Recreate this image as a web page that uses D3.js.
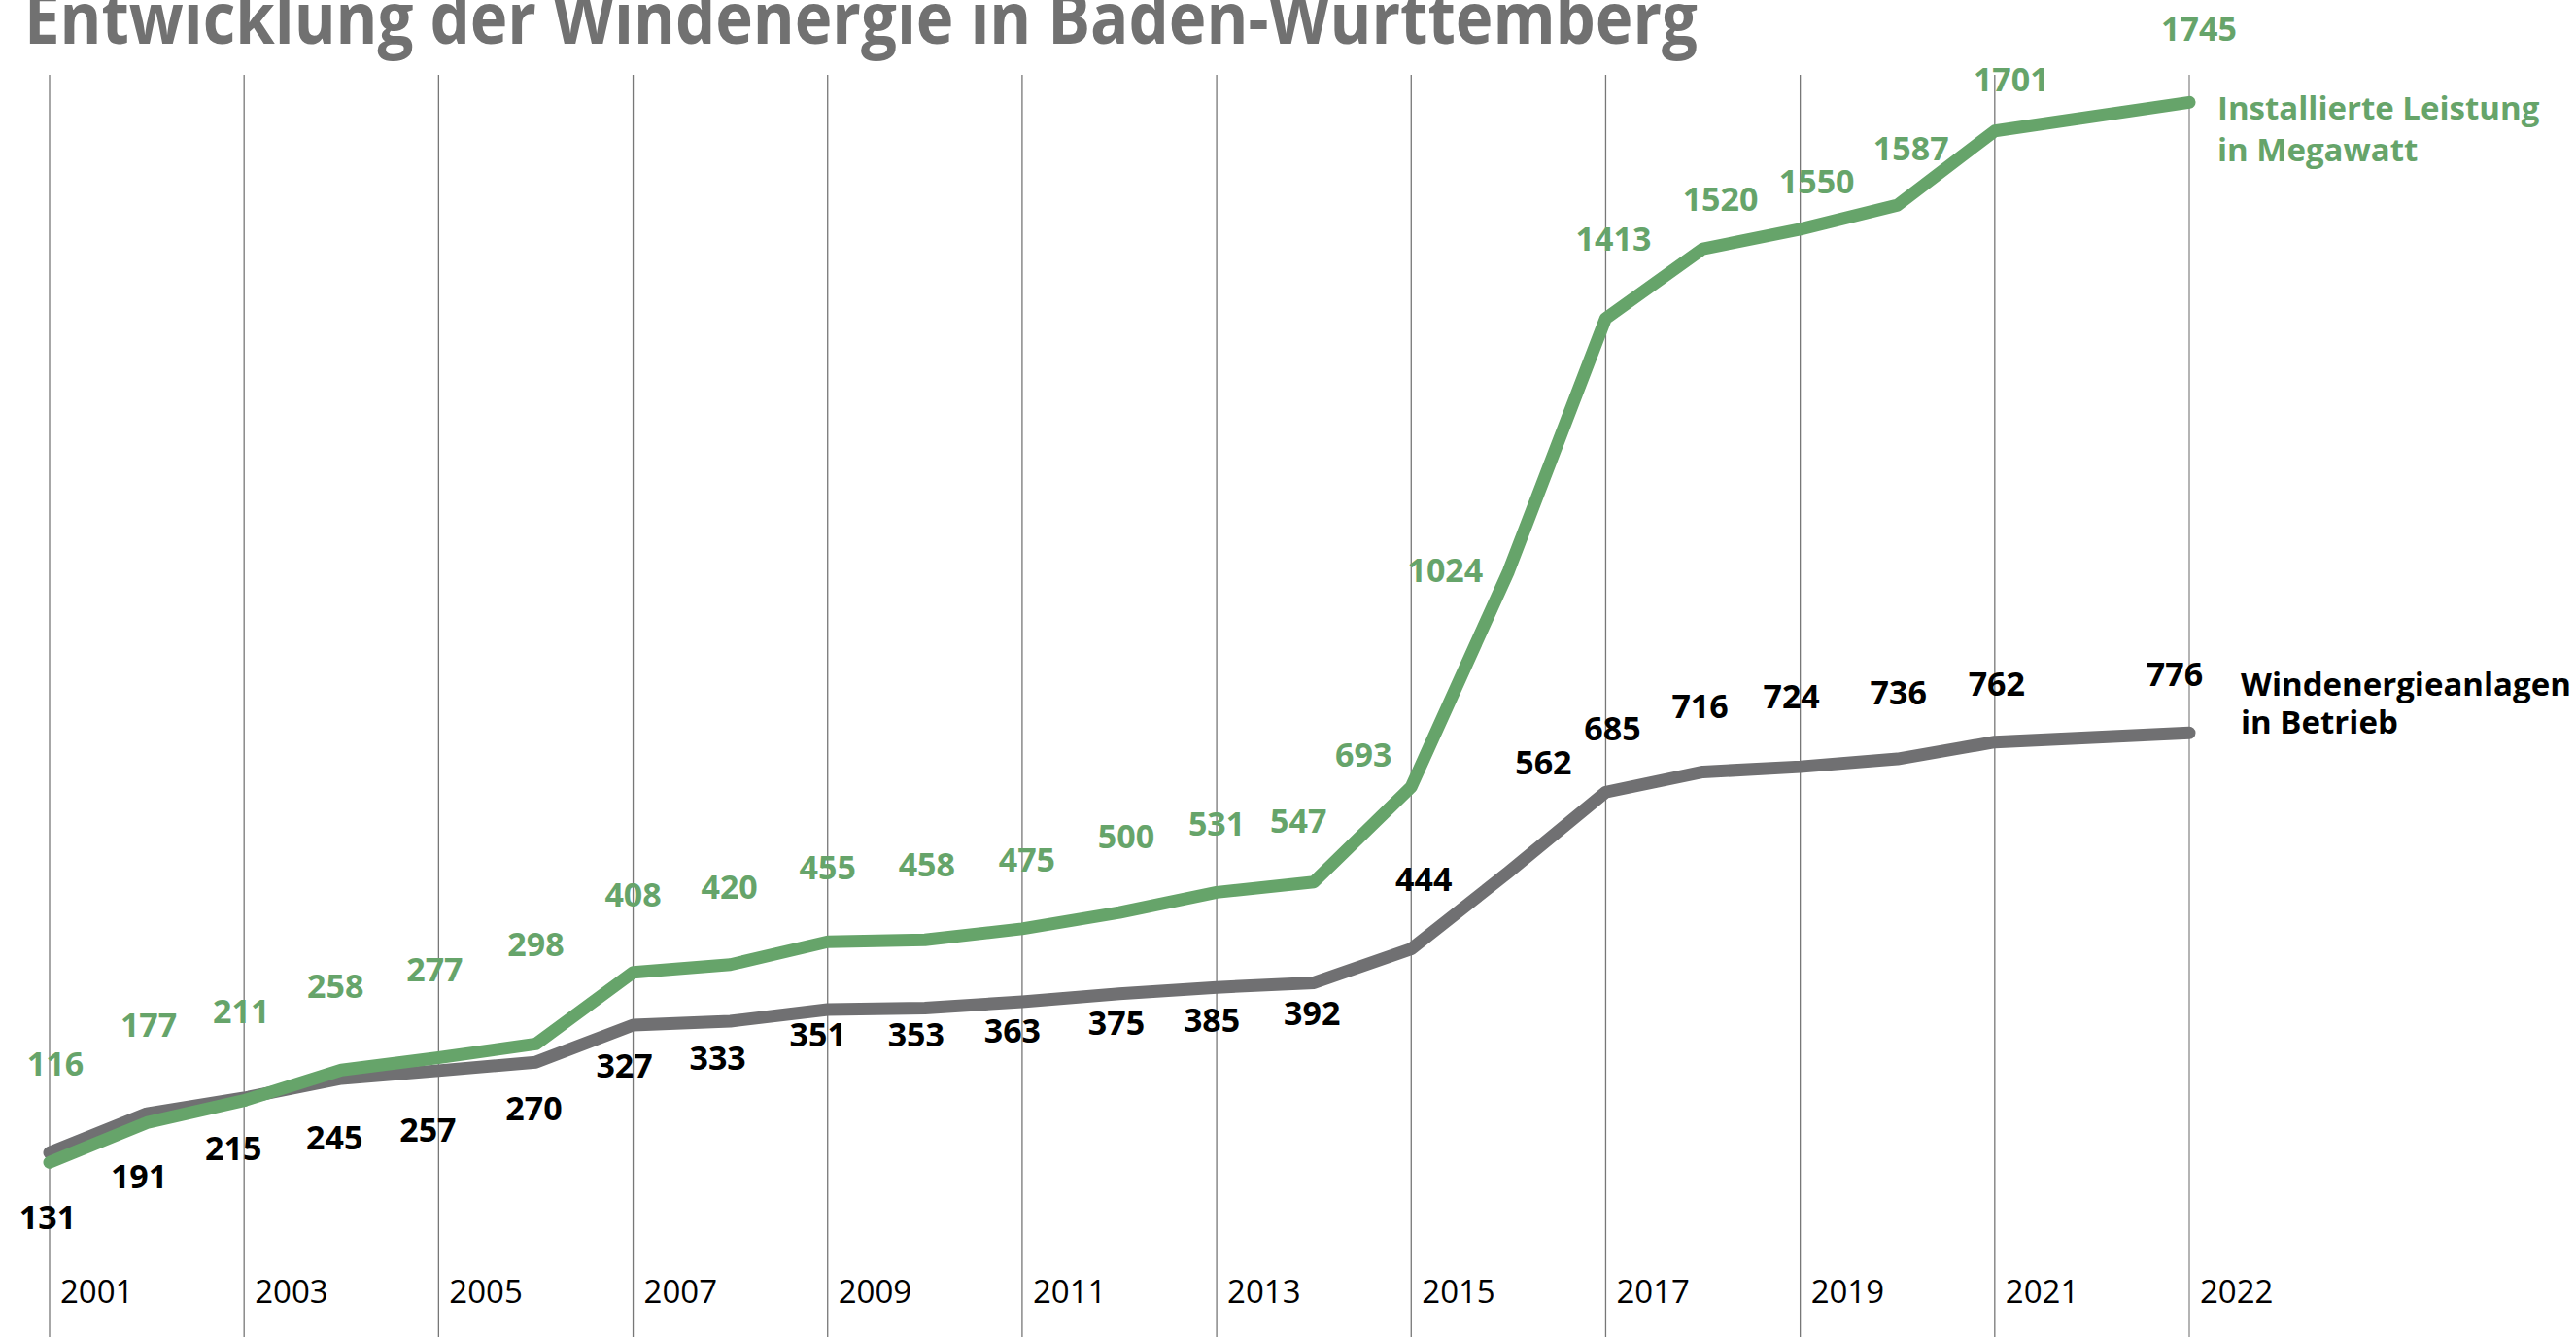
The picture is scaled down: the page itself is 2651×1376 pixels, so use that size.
<!DOCTYPE html>
<html><head><meta charset="utf-8">
<script src="https://cdn.jsdelivr.net/npm/d3@7"></script>
<style>
body{margin:0;background:#fff;overflow:hidden}
svg{display:block}
text{font-family:"Open Sans","Noto Sans",sans-serif}
</style>
</head><body>
<svg id="chart" width="2651" height="1376"></svg>
<script>
// ---- data ----
const years = [2001,2002,2003,2004,2005,2006,2007,2008,2009,2010,2011,2012,2013,2014,2015,2016,2017,2018,2019,2020,2021,2022];
const leistungMW = [116,177,211,258,277,298,408,420,455,458,475,500,531,547,693,1024,1413,1520,1550,1587,1701,1745];
const anlagen = [131,191,215,245,257,270,327,333,351,353,363,375,385,392,444,562,685,716,724,736,762,776];
const gridYears = [2001,2003,2005,2007,2009,2011,2013,2015,2017,2019,2021,2022];
const titleText = "Entwicklung der Windenergie in Baden-Württemberg";
const greenLegend = ["Installierte Leistung","in Megawatt"];
const grayLegend = ["Windenergieanlagen","in Betrieb"];
// label nudges (layout only) relative to each point
const greenNudge = [[6,-89],[2,-88],[-3,-80],[-6,-74],[-4,-78],[0,-90],[0,-68],[-1,-68],[0,-64],[2,-65],[5,-59],[7,-66],[0,-58],[-16,-51],[-49,-21],[-65,11],[8,-70],[18,-39],[17,-37],[14,-46],[17,-41],[10,-63]];
const grayNudge = [[-2,79],[-8,77],[-11,64],[-7,73],[-11,73],[-2,60],[-9,54],[-13,50],[-10,38],[-9,39],[-10,42],[-3,42],[-5,46],[-2,44],[13,-60],[36,-101],[7,-53],[-3,-55],[-9,-60],[1,-56],[2,-48],[-15,-48]];

// ---- styles ----
const GREEN = "#66a46a", GRAY = "#707072", TITLE = "#717171";

const svg = d3.select("#chart");
// x slots: the chart leaves one empty slot before 2022
const slots = years.map(String);
slots.splice(slots.indexOf("2022"), 0, "gap");
const x = d3.scalePoint().domain(slots).range([51, 2253]);
const y = d3.scaleLinear().domain([0, 1800]).range([1274, 68.5]);

// title
svg.append("text").attr("x", 25).attr("y", 45)
  .attr("font-size", 74).attr("font-weight", 700).attr("fill", TITLE)
  .attr("textLength", 1722).attr("lengthAdjust", "spacingAndGlyphs")
  .text(titleText);

// vertical grid lines
svg.append("g").selectAll("line").data(gridYears).join("line")
  .attr("x1", d => x(String(d))).attr("x2", d => x(String(d)))
  .attr("y1", 77).attr("y2", 1376)
  .attr("stroke", d => d === 2022 ? "#b4b4b4" : "#777")
  .attr("stroke-width", d => d === 2022 ? 2 : 1.3);

// year labels
svg.append("g").selectAll("text").data(gridYears).join("text")
  .attr("x", d => x(String(d)) + 11).attr("y", 1341)
  .attr("font-size", 33).attr("fill", "#000")
  .text(d => d);

const line = d3.line().x(d => x(String(d.year))).y(d => y(d.v));
const grayData = years.map((yr, i) => ({year: yr, v: anlagen[i]}));
const greenData = years.map((yr, i) => ({year: yr, v: leistungMW[i]}));

svg.append("path").datum(grayData).attr("d", line)
  .attr("fill", "none").attr("stroke", GRAY).attr("stroke-width", 13)
  .attr("stroke-linecap", "round").attr("stroke-linejoin", "round");
svg.append("path").datum(greenData).attr("d", line)
  .attr("fill", "none").attr("stroke", GREEN).attr("stroke-width", 13)
  .attr("stroke-linecap", "round").attr("stroke-linejoin", "round");

// value labels
svg.append("g").selectAll("text").data(greenData).join("text")
  .attr("x", (d, i) => x(String(d.year)) + greenNudge[i][0])
  .attr("y", (d, i) => y(d.v) + greenNudge[i][1])
  .attr("text-anchor", "middle").attr("font-size", 34).attr("font-weight", 700)
  .attr("fill", GREEN).text(d => d.v);
svg.append("g").selectAll("text").data(grayData).join("text")
  .attr("x", (d, i) => x(String(d.year)) + grayNudge[i][0])
  .attr("y", (d, i) => y(d.v) + grayNudge[i][1])
  .attr("text-anchor", "middle").attr("font-size", 34).attr("font-weight", 700)
  .attr("fill", "#000").text(d => d.v);

// series legends next to the line ends
const lastG = greenData[greenData.length - 1], lastA = grayData[grayData.length - 1];
svg.append("g").selectAll("text").data(greenLegend).join("text")
  .attr("x", x(String(lastG.year)) + 29)
  .attr("y", (d, i) => y(lastG.v) + 18 + i * 43)
  .attr("font-size", 33).attr("font-weight", 700).attr("fill", GREEN).text(d => d);
svg.append("g").selectAll("text").data(grayLegend).join("text")
  .attr("x", x(String(lastA.year)) + 53)
  .attr("y", (d, i) => y(lastA.v) - 38 + i * 39)
  .attr("font-size", 33).attr("font-weight", 700).attr("fill", "#000").text(d => d);
</script>
</body></html>
